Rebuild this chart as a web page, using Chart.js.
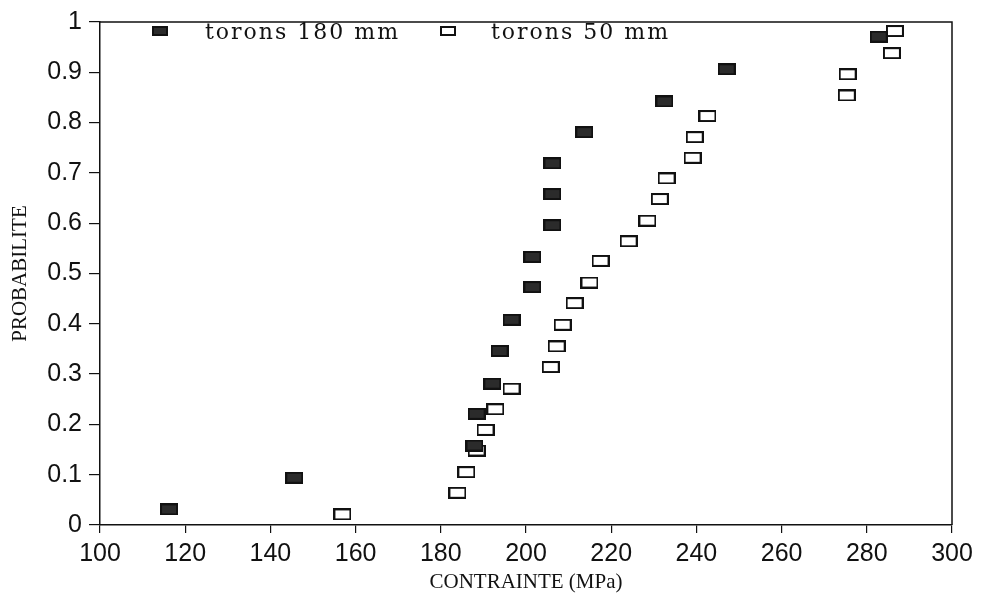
<!DOCTYPE html>
<html>
<head>
<meta charset="utf-8">
<script src="https://cdn.jsdelivr.net/npm/chart.js@4.4.1/dist/chart.umd.min.js"></script>
<style>
  html, body { margin: 0; padding: 0; background: #fff; }
  #wrap { width: 981px; height: 595px; }
</style>
</head>
<body>
<div id="wrap"><canvas id="chart" width="981" height="595"></canvas></div>
<script>
// torons 180 mm (filled squares)
const stress180 = [116.2, 145.6, 187.9, 188.4, 192.1, 193.8, 196.6, 201.5, 201.5, 206.2, 206.2, 206.2, 213.7, 232.5, 247.1, 282.8];
const prob180 = [0.031, 0.094, 0.158, 0.221, 0.281, 0.346, 0.408, 0.473, 0.533, 0.596, 0.658, 0.719, 0.781, 0.842, 0.906, 0.971];

// torons 50 mm (open squares)
const stress50 = [156.9, 183.9, 186.0, 188.4, 190.5, 192.8, 196.6, 205.8, 207.2, 208.6, 211.4, 214.9, 217.5, 224.1, 228.5, 231.4, 233.0, 239.1, 239.6, 242.6, 275.3, 275.5, 285.9, 286.6];
const prob50 = [0.021, 0.064, 0.105, 0.148, 0.189, 0.230, 0.271, 0.314, 0.355, 0.398, 0.441, 0.482, 0.525, 0.564, 0.605, 0.648, 0.689, 0.730, 0.771, 0.813, 0.854, 0.896, 0.938, 0.982];

const seriesLabels = ['torons 180 mm', 'torons 50 mm'];
const xTicks = [100, 120, 140, 160, 180, 200, 220, 240, 260, 280, 300];
const yTicks = [0, 0.1, 0.2, 0.3, 0.4, 0.5, 0.6, 0.7, 0.8, 0.9, 1];

function makeMarker(w, h, filled) {
    const c = document.createElement('canvas');
    c.width = w;
    c.height = h;
    const g = c.getContext('2d');
    g.fillStyle = filled ? '#2b2b2b' : '#ffffff';
    g.fillRect(0, 0, w, h);
    g.strokeStyle = '#111';
    g.lineWidth = 2;
    g.strokeRect(1, 1, w - 2, h - 2);
    return c;
}

const filledMark = makeMarker(18, 12, true);
const openMark = makeMarker(18, 12, false);
const filledSmall = makeMarker(16, 10, true);
const openSmall = makeMarker(16, 10, false);

function toPoints(xs, ys) {
    return xs.map((x, i) => ({ x: x, y: ys[i] }));
}

// frame around plot + legend drawn inside the plot area
const framePlugin = {
    id: 'frame',
    afterDraw(chart) {
        const ctx = chart.ctx;
        const a = chart.chartArea;
        ctx.save();
        ctx.strokeStyle = '#111';
        ctx.lineWidth = 1.5;
        ctx.beginPath();
        ctx.moveTo(a.left, a.top);
        ctx.lineTo(a.right, a.top);
        ctx.lineTo(a.right, a.bottom);
        ctx.stroke();

        const items = [
            { mark: filledSmall, mx: 152, tx: 205 },
            { mark: openSmall, mx: 440, tx: 491 }
        ];
        ctx.font = '22px "DejaVu Serif", serif';
        ctx.letterSpacing = '2px';
        ctx.fillStyle = '#111';
        ctx.textBaseline = 'middle';
        items.forEach((it, i) => {
            ctx.drawImage(it.mark, it.mx, 26);
            ctx.fillText(seriesLabels[i], it.tx, 33);
        });
        ctx.restore();
    }
};

const ctx = document.getElementById('chart').getContext('2d');
new Chart(ctx, {
    type: 'scatter',
    data: {
        datasets: [
            {
                label: seriesLabels[0],
                data: toPoints(stress180, prob180),
                pointStyle: filledMark,
                order: 1
            },
            {
                label: seriesLabels[1],
                data: toPoints(stress50, prob50),
                pointStyle: openMark,
                order: 2
            }
        ]
    },
    options: {
        responsive: false,
        animation: false,
        layout: { padding: { top: 13, right: 29, left: 0, bottom: 0 } },
        plugins: {
            legend: { display: false },
            tooltip: { enabled: false }
        },
        scales: {
            x: {
                type: 'linear',
                min: xTicks[0],
                max: xTicks[xTicks.length - 1],
                afterBuildTicks: (scale) => { scale.ticks = xTicks.map(v => ({ value: v })); },
                afterFit: (scale) => { scale.height = 70; },
                grid: { drawOnChartArea: false, drawTicks: true, tickLength: 8, color: '#111', lineWidth: 1.2 },
                border: { display: true, color: '#111', width: 1.5 },
                ticks: {
                    color: '#111',
                    padding: 6,
                    font: { family: '"Liberation Sans", Arial, sans-serif', size: 25 },
                    maxRotation: 0
                },
                title: {
                    display: true,
                    text: 'CONTRAINTE (MPa)',
                    color: '#111',
                    padding: { top: -8, bottom: 0 },
                    font: { family: '"Liberation Serif", serif', size: 21 }
                }
            },
            y: {
                type: 'linear',
                min: yTicks[0],
                max: yTicks[yTicks.length - 1],
                afterBuildTicks: (scale) => { scale.ticks = yTicks.map(v => ({ value: v })); },
                afterFit: (scale) => { scale.width = 100; },
                grid: { drawOnChartArea: false, drawTicks: true, tickLength: 11, color: '#111', lineWidth: 1.2 },
                border: { display: true, color: '#111', width: 1.5 },
                ticks: {
                    color: '#111',
                    padding: 7,
                    font: { family: '"Liberation Sans", Arial, sans-serif', size: 25 },
                    callback: (v) => Number(v.toFixed(1)).toString()
                },
                title: {
                    display: true,
                    text: 'PROBABILITE',
                    color: '#111',
                    padding: { top: 8, bottom: 0 },
                    font: { family: '"Liberation Serif", serif', size: 21 }
                }
            }
        }
    },
    plugins: [framePlugin]
});
</script>
</body>
</html>
